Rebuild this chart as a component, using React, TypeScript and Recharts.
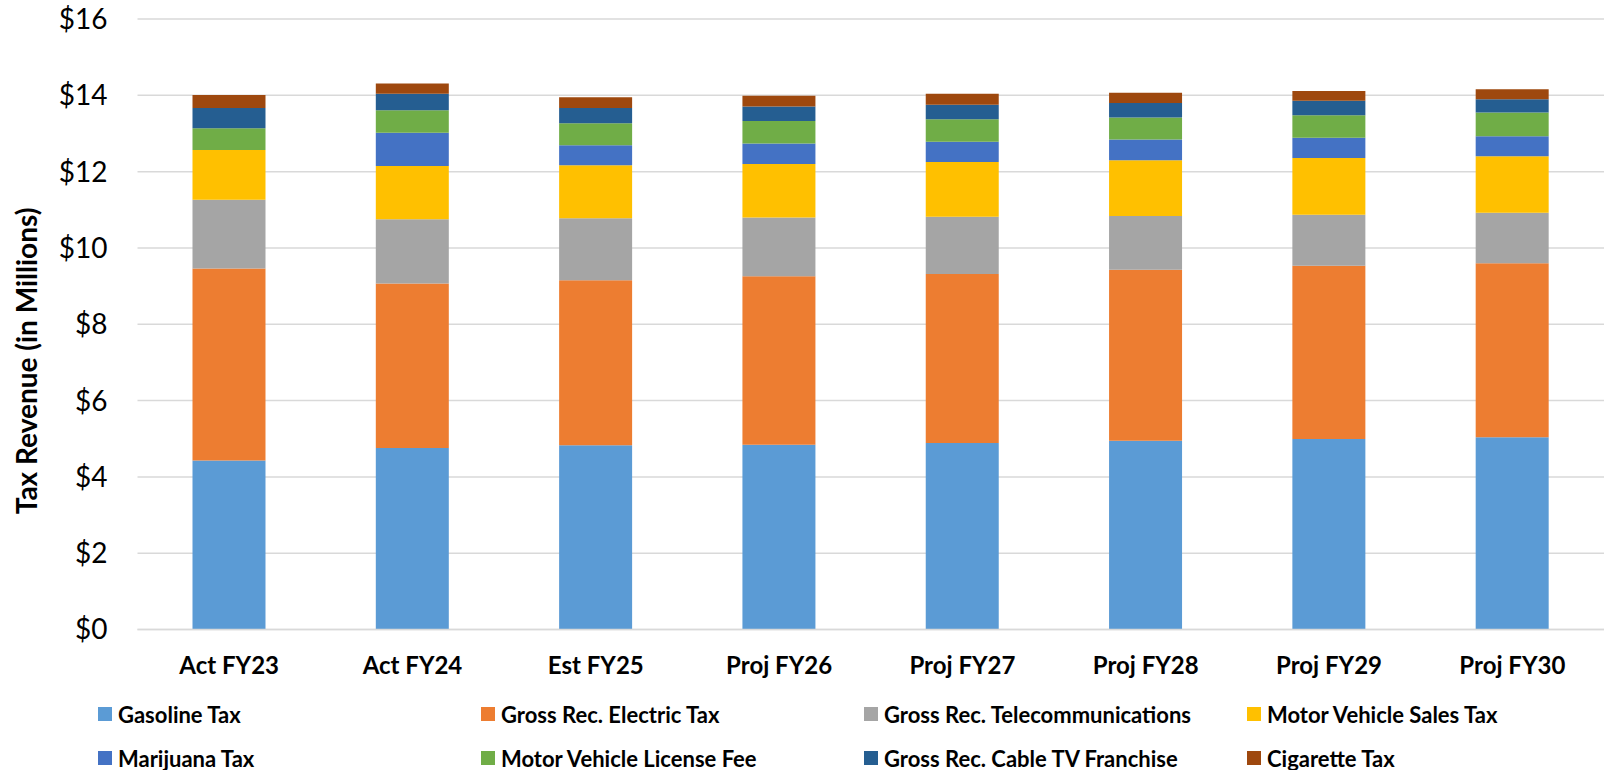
import { BarChart, Bar, XAxis, YAxis, CartesianGrid } from 'recharts';

const categories = ["Act FY23", "Act FY24", "Est FY25", "Proj FY26", "Proj FY27", "Proj FY28", "Proj FY29", "Proj FY30"];

const gasoline = [4.43, 4.76, 4.83, 4.84, 4.89, 4.95, 4.99, 5.04];
const electric = [5.03, 4.31, 4.32, 4.42, 4.43, 4.48, 4.54, 4.56];
const telecom = [1.80, 1.68, 1.63, 1.54, 1.50, 1.41, 1.34, 1.32];
const mvSales = [1.31, 1.40, 1.39, 1.40, 1.43, 1.46, 1.49, 1.48];
const marijuana = [0, 0.87, 0.52, 0.54, 0.53, 0.54, 0.53, 0.53];
const mvLicense = [0.57, 0.59, 0.58, 0.59, 0.59, 0.58, 0.59, 0.62];
const cableTv = [0.53, 0.43, 0.40, 0.38, 0.38, 0.38, 0.38, 0.35];
const cigarette = [0.34, 0.27, 0.28, 0.28, 0.29, 0.27, 0.25, 0.26];

const yTicks = [0, 2, 4, 6, 8, 10, 12, 14, 16];

const series = [
  { key: "gasoline", name: "Gasoline Tax", values: gasoline, color: "#5B9BD5" },
  { key: "electric", name: "Gross Rec. Electric Tax", values: electric, color: "#ED7D31" },
  { key: "telecom", name: "Gross Rec. Telecommunications", values: telecom, color: "#A5A5A5" },
  { key: "mvSales", name: "Motor Vehicle Sales Tax", values: mvSales, color: "#FFC000" },
  { key: "marijuana", name: "Marijuana Tax", values: marijuana, color: "#4472C4" },
  { key: "mvLicense", name: "Motor Vehicle License Fee", values: mvLicense, color: "#70AD47" },
  { key: "cableTv", name: "Gross Rec. Cable TV Franchise", values: cableTv, color: "#255E91" },
  { key: "cigarette", name: "Cigarette Tax", values: cigarette, color: "#9E480E" },
];

const data = categories.map((cat, i) => {
  const row: Record<string, string | number> = { cat };
  series.forEach((s) => {
    row[s.key] = s.values[i];
  });
  return row;
});

const font = "Lato, 'Open Sans', sans-serif";

function YLabel() {
  return (
    <text
      x={26}
      y={361}
      transform="rotate(-90, 26, 361)"
      textAnchor="middle"
      dominantBaseline="central"
      fontFamily={font}
      fontWeight={700}
      fontSize={28}
      fill="#000"
    >
      Tax Revenue (in Millions)
    </text>
  );
}

function App() {
  return (
    <div style={{ position: 'absolute', left: 0, top: 0, width: 1604, height: 770, background: '#fff', fontFamily: font }}>
      <BarChart
        width={1604}
        height={770}
        data={data}
        margin={{ top: 19, right: 0, left: 0, bottom: 80.5 }}
        barCategoryGap="30%"
      >
        <CartesianGrid vertical={false} stroke="#d9d9d9" strokeWidth={1.5} />
        <XAxis
          dataKey="cat"
          height={60}
          tickLine={false}
          tickSize={0}
          tickMargin={27}
          axisLine={{ stroke: '#d9d9d9', strokeWidth: 1.5 }}
          tick={{ fontFamily: font, fontWeight: 700, fontSize: 24, fill: '#000' }}
        />
        <YAxis
          width={137.5}
          domain={[0, 16]}
          ticks={yTicks}
          interval={0}
          axisLine={false}
          tickLine={false}
          tickSize={0}
          tickMargin={30}
          tickFormatter={(v: number) => `$${v}`}
          tick={{ fontFamily: font, fontSize: 28, fill: '#000' }}
          label={<YLabel />}
        />
        {series.map((s) => (
          <Bar key={s.key} dataKey={s.key} name={s.name} stackId="a" fill={s.color} isAnimationActive={false} />
        ))}
      </BarChart>
      {series.map((s, i) => {
        const col = i % 4;
        const row = Math.floor(i / 4);
        return (
          <div
            key={s.key}
            style={{
              position: 'absolute',
              left: 98 + col * 383,
              top: 714 + row * 44 - 13,
              height: 26,
              display: 'flex',
              alignItems: 'center',
              whiteSpace: 'nowrap',
              fontWeight: 700,
              fontSize: 22,
              color: '#000',
            }}
          >
            <span style={{ display: 'inline-block', width: 14, height: 14, background: s.color, marginRight: 6 }} />
            <span>{s.name}</span>
          </div>
        );
      })}
    </div>
  );
}

export default App;
